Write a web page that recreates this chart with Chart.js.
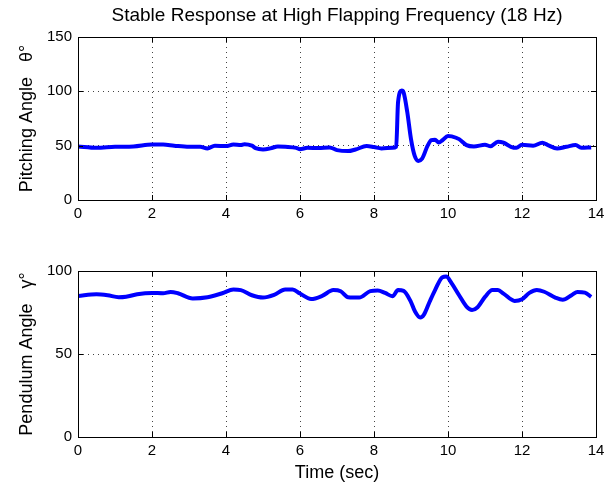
<!DOCTYPE html>
<html>
<head>
<meta charset="utf-8">
<script src="https://cdn.jsdelivr.net/npm/chart.js@4.4.1/dist/chart.umd.min.js"></script>
<style>
  body { margin: 0; background: #fff; }
  #wrap { position: relative; width: 616px; height: 484px; }
  canvas { position: absolute; left: 0; }
  #title {
    position: absolute; left: 78px; width: 518px; top: 4px;
    text-align: center; white-space: nowrap;
    font: 19px 'Liberation Sans', Arial, Helvetica, sans-serif; color: #000;
  }
</style>
</head>
<body>
<div id="wrap">
  <canvas id="pitchChart" width="616" height="228" style="top:0"></canvas>
  <canvas id="pendChart" width="616" height="244" style="top:240px"></canvas>
  <div id="title">Stable Response at High Flapping Frequency (18 Hz)</div>
</div>
<script>
// values
const pitchTime = [0, 0.5, 1, 1.5, 2, 2.3, 2.6, 3, 3.3, 3.5, 3.7, 4, 4.2, 4.4, 4.5, 4.7, 4.8, 5.0, 5.2, 5.4, 5.6, 5.9, 6.0, 6.2, 6.5, 6.8, 7.0, 7.3, 7.5, 7.8, 8.0, 8.2, 8.5, 8.6, 8.65, 8.75, 8.8, 8.9, 9.0, 9.1, 9.2, 9.3, 9.45, 9.55, 9.65, 9.75, 9.85, 10.0, 10.1, 10.3, 10.5, 10.7, 11.0, 11.15, 11.35, 11.5, 11.7, 11.85, 12.0, 12.3, 12.55, 12.7, 12.95, 13.2, 13.45, 13.6, 13.87];
const pitchAngle = [49.3, 48, 49, 49.3, 51, 51, 50, 49, 49, 47.4, 50, 49.6, 51, 50.5, 51.4, 50, 47.7, 46.5, 47.5, 49.3, 49, 48, 46.8, 48, 47.8, 48.4, 45.9, 45, 46.5, 49.6, 48.7, 47.5, 48, 49, 90, 100.7, 99, 80.7, 56, 40.6, 36, 38, 50, 55, 55.4, 53, 55, 59, 58.5, 56, 50.5, 49.3, 50.8, 49.5, 53.6, 52.7, 49, 48, 50.8, 50, 52.7, 50.5, 47.4, 49, 50.5, 48, 48.4];

const pendTime = [0, 0.5, 0.8, 1.1, 1.3, 1.6, 2.0, 2.3, 2.5, 2.7, 3.1, 3.5, 3.9, 4.2, 4.4, 4.7, 5.0, 5.3, 5.6, 5.8, 6.0, 6.3, 6.6, 6.9, 7.1, 7.3, 7.6, 7.9, 8.1, 8.3, 8.5, 8.65, 8.8, 9.0, 9.1, 9.25, 9.35, 9.5, 9.65, 9.85, 9.95, 10.1, 10.3, 10.5, 10.65, 10.8, 11.0, 11.2, 11.35, 11.5, 11.8, 12.0, 12.2, 12.4, 12.6, 12.9, 13.1, 13.35, 13.5, 13.7, 13.87];
const pendAngle = [85, 86, 85.4, 84.2, 84.5, 86, 86.8, 86.6, 87.4, 86.6, 83.5, 84.2, 86.6, 88.9, 88.5, 85.4, 84, 85.6, 88.9, 88.9, 86.4, 83.1, 85, 88.5, 87.8, 84.2, 84, 87.9, 88.3, 86.8, 84.8, 88.5, 88, 81.3, 76, 72, 73.7, 81.3, 88.5, 96.3, 96.7, 92.6, 85.4, 78.6, 76.5, 78.2, 84.4, 88.5, 88.5, 86.4, 82, 83, 86.8, 88.5, 87.5, 84, 82.7, 85.6, 87.4, 87, 84.4];

const xTicksStep = 2;
const pitchTicksStep = 50;
const pendTicksStep = 50;

const FONT = "'Liberation Sans', Arial, Helvetica, sans-serif";

// box round the plot area with inward ticks, matlab style
const frameTicks = {
  id: "frameTicks",
  afterDraw(chart) {
    const { ctx, chartArea: a, scales } = chart;
    ctx.save();
    ctx.strokeStyle = "#000";
    ctx.lineWidth = 1;
    ctx.strokeRect(a.left + 0.5, a.top + 0.5, a.right - a.left, a.bottom - a.top);
    ctx.beginPath();
    scales.x.ticks.forEach((t) => {
      const px = Math.round(scales.x.getPixelForValue(t.value)) + 0.5;
      ctx.moveTo(px, a.bottom); ctx.lineTo(px, a.bottom - 5);
      ctx.moveTo(px, a.top); ctx.lineTo(px, a.top + 5);
    });
    scales.y.ticks.forEach((t) => {
      const py = Math.round(scales.y.getPixelForValue(t.value)) + 0.5;
      ctx.moveTo(a.left, py); ctx.lineTo(a.left + 5, py);
      ctx.moveTo(a.right, py); ctx.lineTo(a.right - 5, py);
    });
    ctx.stroke();
    ctx.restore();
  },
};

function makeChart(id, times, values, yMax, yStep, yTitle, opts) {
  return new Chart(document.getElementById(id), {
    type: "line",
    data: {
      datasets: [{
        data: times.map((t, i) => ({ x: t, y: values[i] })),
        borderColor: "#0000ff",
        borderWidth: 4,
        pointRadius: 0,
        cubicInterpolationMode: "monotone",
        fill: false,
      }],
    },
    options: {
      responsive: false,
      animation: false,
      layout: { padding: { left: 0, right: 20, top: opts.padTop, bottom: 0 } },
      plugins: {
        legend: { display: false },
        tooltip: { enabled: false },
        title: { display: false },
      },
      scales: {
        x: {
          type: "linear",
          min: 0,
          max: 14,
          ticks: { stepSize: xTicksStep, color: "#000", font: { family: FONT, size: 15 }, padding: 5, maxRotation: 0 },
          grid: { color: "#444", lineWidth: 1, drawTicks: false },
          border: { display: false, dash: [1, 4] },
          title: opts.xTitle ? {
            display: true, text: opts.xTitle, color: "#000",
            font: { family: FONT, size: 18 }, padding: { top: 0, bottom: 0 },
          } : { display: false },
          afterFit: (s) => { s.height = opts.xHeight; },
        },
        y: {
          min: 0,
          max: yMax,
          ticks: { stepSize: yStep, color: "#000", font: { family: FONT, size: 15 }, padding: 6 },
          grid: { color: "#444", lineWidth: 1, drawTicks: false },
          border: { display: false, dash: [1, 4] },
          title: {
            display: true, text: yTitle, color: "#000",
            font: { family: FONT, size: 18 }, padding: { top: 16, bottom: 0 },
          },
          afterFit: (s) => { s.width = 78; },
        },
      },
    },
    plugins: [frameTicks],
  });
}

makeChart("pitchChart", pitchTime, pitchAngle, 150, pitchTicksStep, "Pitching Angle   \u03B8\u00B0",
  { padTop: 37, xHeight: 28 });
makeChart("pendChart", pendTime, pendAngle, 100, pendTicksStep, "Pendulum Angle   \u03B3\u00B0",
  { padTop: 31, xHeight: 47, xTitle: "Time (sec)" });
</script>
</body>
</html>
